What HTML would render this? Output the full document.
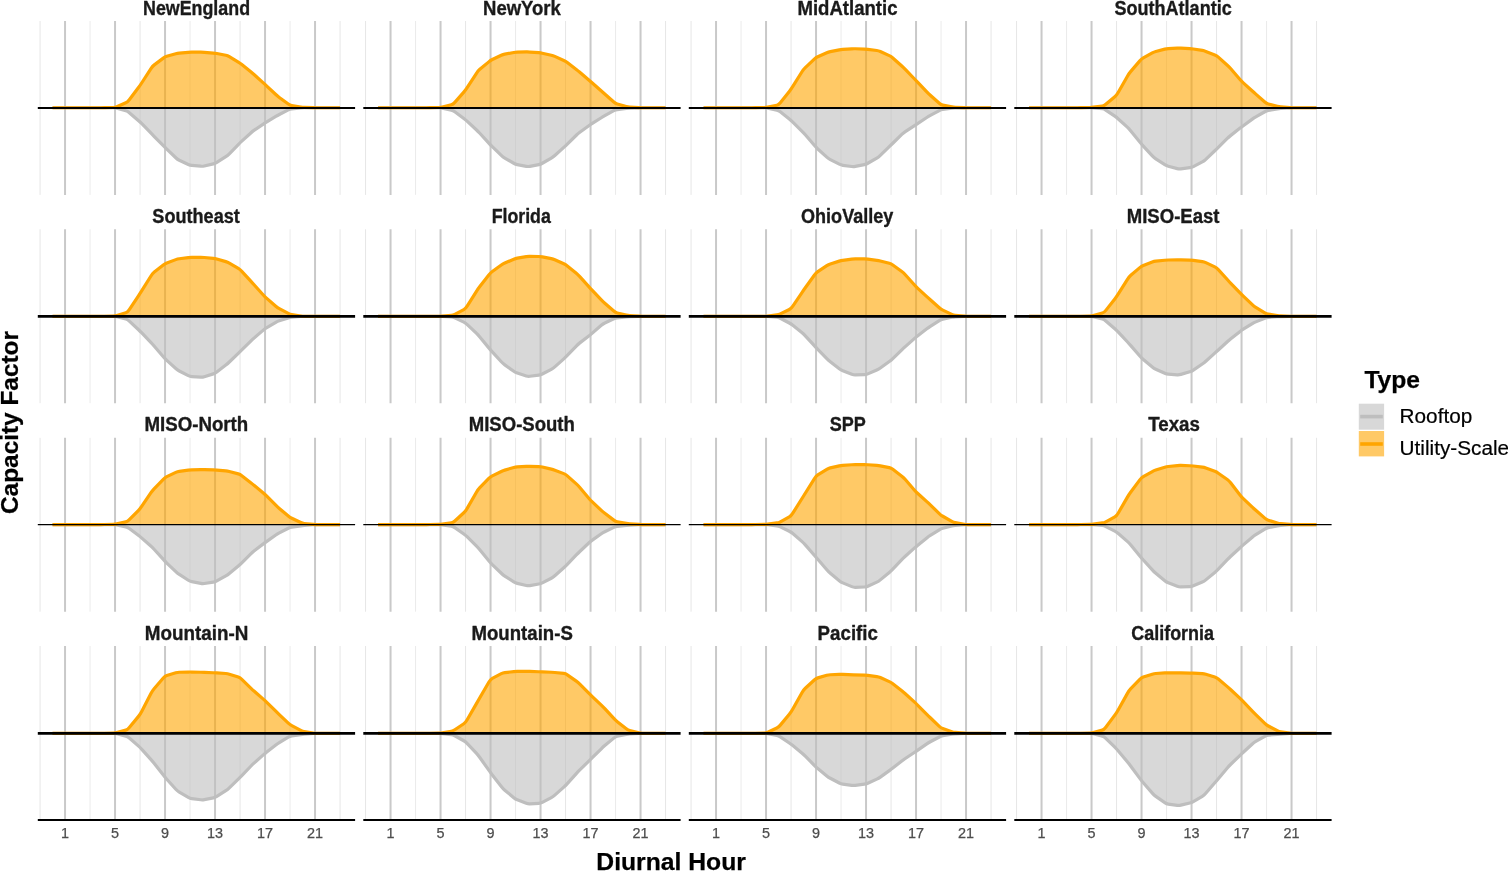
<!DOCTYPE html>
<html><head><meta charset="utf-8"><title>Capacity Factor by Diurnal Hour</title>
<style>html,body{margin:0;padding:0;background:#fff;overflow:hidden}svg{display:block}text{font-family:"Liberation Sans",sans-serif}.t{font-weight:700;fill:#1a1a1a;stroke:#1a1a1a;stroke-width:.35;stroke-linejoin:round}.k{fill:#4d4d4d;stroke:#4d4d4d;stroke-width:.25}.ax{font-weight:700;fill:#000;stroke:#000;stroke-width:.25}.lg{fill:#000;stroke:#000;stroke-width:.2}.gM{stroke:#c9c9c9;stroke-width:2;fill:none}.gm{stroke:#e6e6e6;stroke-width:1;fill:none}.gf{stroke:#ebebeb;stroke-width:1;fill:none}.uF{fill:#ffa500;fill-opacity:.6;stroke:none}.rF{fill:#bebebe;fill-opacity:.6;stroke:none}.uL{fill:none;stroke:#ffa500;stroke-width:3.2;stroke-linejoin:round;stroke-linecap:butt}.rL{fill:none;stroke:#bebebe;stroke-width:3.2;stroke-linejoin:round;stroke-linecap:butt}.z{stroke:#000;fill:none}</style></head><body>
<svg width="1508" height="872" viewBox="0 0 1508 872">
<rect width="1508" height="872" fill="#fff"/>
<g>
<path class="gm" d="M40.05 21V194.9M140.05 21V194.9M240.05 21V194.9M340.05 21V194.9"/>
<path class="gf" d="M90.05 21V194.9M190.05 21V194.9M290.05 21V194.9"/>
<path class="gM" d="M65.05 21V194.9M115.05 21V194.9M165.05 21V194.9M215.05 21V194.9M265.05 21V194.9M315.05 21V194.9"/>
<path class="rF" d="M52.55 107.75L65.05 107.75L77.55 107.75L90.05 107.75L102.55 107.75L113.3 107.75Q115.05 107.75 116.8 108.24L125.8 110.76Q127.55 111.25 129.3 112.75L138.3 120.45Q140.05 121.95 141.8 123.74L150.8 132.96Q152.55 134.75 154.3 136.53L163.3 145.67Q165.05 147.45 166.8 149.13L175.8 157.77Q177.55 159.45 179.3 160.26L188.3 164.44Q190.05 165.25 191.8 165.4L200.8 166.2Q202.55 166.35 204.3 165.94L213.3 163.86Q215.05 163.45 216.8 162.34L225.8 156.66Q227.55 155.55 229.3 153.76L238.3 144.54Q240.05 142.75 241.8 141.15L250.8 132.95Q252.55 131.35 254.3 130.17L263.3 124.13Q265.05 122.95 266.8 121.89L275.8 116.41Q277.55 115.35 279.3 114.47L288.3 109.93Q290.05 109.05 291.8 108.87L300.8 107.93Q302.55 107.75 304.3 107.75L315.05 107.75L327.55 107.75L340.05 107.75V107.75H52.55Z"/>
<path class="rL" d="M52.55 107.75L65.05 107.75L77.55 107.75L90.05 107.75L102.55 107.75L113.3 107.75Q115.05 107.75 116.8 108.24L125.8 110.76Q127.55 111.25 129.3 112.75L138.3 120.45Q140.05 121.95 141.8 123.74L150.8 132.96Q152.55 134.75 154.3 136.53L163.3 145.67Q165.05 147.45 166.8 149.13L175.8 157.77Q177.55 159.45 179.3 160.26L188.3 164.44Q190.05 165.25 191.8 165.4L200.8 166.2Q202.55 166.35 204.3 165.94L213.3 163.86Q215.05 163.45 216.8 162.34L225.8 156.66Q227.55 155.55 229.3 153.76L238.3 144.54Q240.05 142.75 241.8 141.15L250.8 132.95Q252.55 131.35 254.3 130.17L263.3 124.13Q265.05 122.95 266.8 121.89L275.8 116.41Q277.55 115.35 279.3 114.47L288.3 109.93Q290.05 109.05 291.8 108.87L300.8 107.93Q302.55 107.75 304.3 107.75L315.05 107.75L327.55 107.75L340.05 107.75"/>
<path class="uF" d="M52.55 107.75L65.05 107.75L77.55 107.75L90.05 107.75L100.8 107.75Q102.55 107.75 104.3 107.71L113.3 107.49Q115.05 107.45 116.8 106.69L125.8 102.81Q127.55 102.05 129.3 99.73L138.3 87.77Q140.05 85.45 141.8 82.75L150.8 68.9Q152.55 66.2 154.3 64.88L163.3 58.12Q165.05 56.8 166.8 56.3L175.8 53.7Q177.55 53.2 179.3 53.06L188.3 52.34Q190.05 52.2 191.8 52.2L200.8 52.2Q202.55 52.2 204.3 52.34L213.3 53.06Q215.05 53.2 216.8 53.54L225.8 55.26Q227.55 55.6 229.3 56.66L238.3 62.14Q240.05 63.2 241.8 64.6L250.8 71.8Q252.55 73.2 254.3 74.78L263.3 82.88Q265.05 84.45 266.8 86.09L275.8 94.51Q277.55 96.15 279.3 97.44L288.3 104.06Q290.05 105.35 291.8 105.62L300.8 106.98Q302.55 107.25 304.3 107.32L313.3 107.68Q315.05 107.75 316.8 107.75L327.55 107.75L340.05 107.75V107.75H52.55Z"/>
<path class="uL" d="M52.55 107.75L65.05 107.75L77.55 107.75L90.05 107.75L100.8 107.75Q102.55 107.75 104.3 107.71L113.3 107.49Q115.05 107.45 116.8 106.69L125.8 102.81Q127.55 102.05 129.3 99.73L138.3 87.77Q140.05 85.45 141.8 82.75L150.8 68.9Q152.55 66.2 154.3 64.88L163.3 58.12Q165.05 56.8 166.8 56.3L175.8 53.7Q177.55 53.2 179.3 53.06L188.3 52.34Q190.05 52.2 191.8 52.2L200.8 52.2Q202.55 52.2 204.3 52.34L213.3 53.06Q215.05 53.2 216.8 53.54L225.8 55.26Q227.55 55.6 229.3 56.66L238.3 62.14Q240.05 63.2 241.8 64.6L250.8 71.8Q252.55 73.2 254.3 74.78L263.3 82.88Q265.05 84.45 266.8 86.09L275.8 94.51Q277.55 96.15 279.3 97.44L288.3 104.06Q290.05 105.35 291.8 105.62L300.8 106.98Q302.55 107.25 304.3 107.32L313.3 107.68Q315.05 107.75 316.8 107.75L327.55 107.75L340.05 107.75"/>
<path class="z" stroke-width="2.1" d="M37.8 108.05H355.1"/>
<text class="t" x="143.01" y="14.8" font-size="19.4" textLength="107.05" lengthAdjust="spacingAndGlyphs">NewEngland</text>
</g>
<g>
<path class="gm" d="M365.55 21V194.9M465.55 21V194.9M565.55 21V194.9M665.55 21V194.9"/>
<path class="gf" d="M415.55 21V194.9M515.55 21V194.9M615.55 21V194.9"/>
<path class="gM" d="M390.55 21V194.9M440.55 21V194.9M490.55 21V194.9M540.55 21V194.9M590.55 21V194.9M640.55 21V194.9"/>
<path class="rF" d="M378.05 107.75L390.55 107.75L403.05 107.75L415.55 107.75L428.05 107.75L438.8 107.75Q440.55 107.75 442.3 108.13L451.3 110.07Q453.05 110.45 454.8 111.75L463.8 118.45Q465.55 119.75 467.3 121.37L476.3 129.73Q478.05 131.35 479.8 133.25L488.8 143.05Q490.55 144.95 492.3 146.64L501.3 155.36Q503.05 157.05 504.8 158.06L513.8 163.24Q515.55 164.25 517.3 164.59L526.3 166.31Q528.05 166.65 529.8 166.31L538.8 164.59Q540.55 164.25 542.3 163.24L551.3 158.06Q553.05 157.05 554.8 155.47L563.8 147.33Q565.55 145.75 567.3 144.04L576.3 135.26Q578.05 133.55 579.8 132.29L588.8 125.81Q590.55 124.55 592.3 123.44L601.3 117.76Q603.05 116.65 604.8 115.68L613.8 110.72Q615.55 109.75 617.3 109.54L626.3 108.46Q628.05 108.25 629.8 108.18L638.8 107.82Q640.55 107.75 642.3 107.75L653.05 107.75L665.55 107.75V107.75H378.05Z"/>
<path class="rL" d="M378.05 107.75L390.55 107.75L403.05 107.75L415.55 107.75L428.05 107.75L438.8 107.75Q440.55 107.75 442.3 108.13L451.3 110.07Q453.05 110.45 454.8 111.75L463.8 118.45Q465.55 119.75 467.3 121.37L476.3 129.73Q478.05 131.35 479.8 133.25L488.8 143.05Q490.55 144.95 492.3 146.64L501.3 155.36Q503.05 157.05 504.8 158.06L513.8 163.24Q515.55 164.25 517.3 164.59L526.3 166.31Q528.05 166.65 529.8 166.31L538.8 164.59Q540.55 164.25 542.3 163.24L551.3 158.06Q553.05 157.05 554.8 155.47L563.8 147.33Q565.55 145.75 567.3 144.04L576.3 135.26Q578.05 133.55 579.8 132.29L588.8 125.81Q590.55 124.55 592.3 123.44L601.3 117.76Q603.05 116.65 604.8 115.68L613.8 110.72Q615.55 109.75 617.3 109.54L626.3 108.46Q628.05 108.25 629.8 108.18L638.8 107.82Q640.55 107.75 642.3 107.75L653.05 107.75L665.55 107.75"/>
<path class="uF" d="M378.05 107.75L390.55 107.75L403.05 107.75L415.55 107.75L426.3 107.75Q428.05 107.75 429.8 107.71L438.8 107.49Q440.55 107.45 442.3 107.02L451.3 104.78Q453.05 104.35 454.8 102.37L463.8 92.18Q465.55 90.2 467.3 87.48L476.3 73.52Q478.05 70.8 479.8 69.34L488.8 61.86Q490.55 60.4 492.3 59.56L501.3 55.24Q503.05 54.4 504.8 54.09L513.8 52.51Q515.55 52.2 517.3 52.16L526.3 51.94Q528.05 51.9 529.8 52.03L538.8 52.67Q540.55 52.8 542.3 53.19L551.3 55.21Q553.05 55.6 554.8 56.38L563.8 60.42Q565.55 61.2 567.3 62.54L576.3 69.46Q578.05 70.8 579.8 72.29L588.8 79.96Q590.55 81.45 592.3 83L603.05 92.5L613.8 102Q615.55 103.55 617.3 104.03L626.3 106.47Q628.05 106.95 629.8 107.06L638.8 107.64Q640.55 107.75 642.3 107.75L653.05 107.75L665.55 107.75V107.75H378.05Z"/>
<path class="uL" d="M378.05 107.75L390.55 107.75L403.05 107.75L415.55 107.75L426.3 107.75Q428.05 107.75 429.8 107.71L438.8 107.49Q440.55 107.45 442.3 107.02L451.3 104.78Q453.05 104.35 454.8 102.37L463.8 92.18Q465.55 90.2 467.3 87.48L476.3 73.52Q478.05 70.8 479.8 69.34L488.8 61.86Q490.55 60.4 492.3 59.56L501.3 55.24Q503.05 54.4 504.8 54.09L513.8 52.51Q515.55 52.2 517.3 52.16L526.3 51.94Q528.05 51.9 529.8 52.03L538.8 52.67Q540.55 52.8 542.3 53.19L551.3 55.21Q553.05 55.6 554.8 56.38L563.8 60.42Q565.55 61.2 567.3 62.54L576.3 69.46Q578.05 70.8 579.8 72.29L588.8 79.96Q590.55 81.45 592.3 83L603.05 92.5L613.8 102Q615.55 103.55 617.3 104.03L626.3 106.47Q628.05 106.95 629.8 107.06L638.8 107.64Q640.55 107.75 642.3 107.75L653.05 107.75L665.55 107.75"/>
<path class="z" stroke-width="2.1" d="M363.3 108.05H680.6"/>
<text class="t" x="483.04" y="14.8" font-size="19.4" textLength="77.82" lengthAdjust="spacingAndGlyphs">NewYork</text>
</g>
<g>
<path class="gm" d="M691.05 21V194.9M791.05 21V194.9M891.05 21V194.9M991.05 21V194.9"/>
<path class="gf" d="M741.05 21V194.9M841.05 21V194.9M941.05 21V194.9"/>
<path class="gM" d="M716.05 21V194.9M766.05 21V194.9M816.05 21V194.9M866.05 21V194.9M916.05 21V194.9M966.05 21V194.9"/>
<path class="rF" d="M703.55 107.75L716.05 107.75L728.55 107.75L741.05 107.75L753.55 107.75L764.3 107.75Q766.05 107.75 767.8 108.13L776.8 110.07Q778.55 110.45 780.3 111.85L789.3 119.05Q791.05 120.45 792.8 122.17L801.8 131.03Q803.55 132.75 805.3 134.79L814.3 145.31Q816.05 147.35 817.8 148.95L826.8 157.15Q828.55 158.75 830.3 159.63L839.3 164.17Q841.05 165.05 842.8 165.29L851.8 166.51Q853.55 166.75 855.3 166.4L864.3 164.6Q866.05 164.25 867.8 163.24L876.8 158.06Q878.55 157.05 880.3 155.36L889.3 146.64Q891.05 144.95 892.8 143.24L901.8 134.46Q903.55 132.75 905.3 131.6L916.05 124.55L926.8 117.5Q928.55 116.35 930.3 115.41L939.3 110.59Q941.05 109.65 942.8 109.43L951.8 108.27Q953.55 108.05 955.3 108.01L964.3 107.79Q966.05 107.75 967.8 107.75L978.55 107.75L991.05 107.75V107.75H703.55Z"/>
<path class="rL" d="M703.55 107.75L716.05 107.75L728.55 107.75L741.05 107.75L753.55 107.75L764.3 107.75Q766.05 107.75 767.8 108.13L776.8 110.07Q778.55 110.45 780.3 111.85L789.3 119.05Q791.05 120.45 792.8 122.17L801.8 131.03Q803.55 132.75 805.3 134.79L814.3 145.31Q816.05 147.35 817.8 148.95L826.8 157.15Q828.55 158.75 830.3 159.63L839.3 164.17Q841.05 165.05 842.8 165.29L851.8 166.51Q853.55 166.75 855.3 166.4L864.3 164.6Q866.05 164.25 867.8 163.24L876.8 158.06Q878.55 157.05 880.3 155.36L889.3 146.64Q891.05 144.95 892.8 143.24L901.8 134.46Q903.55 132.75 905.3 131.6L916.05 124.55L926.8 117.5Q928.55 116.35 930.3 115.41L939.3 110.59Q941.05 109.65 942.8 109.43L951.8 108.27Q953.55 108.05 955.3 108.01L964.3 107.79Q966.05 107.75 967.8 107.75L978.55 107.75L991.05 107.75"/>
<path class="uF" d="M703.55 107.75L716.05 107.75L728.55 107.75L741.05 107.75L751.8 107.75Q753.55 107.75 755.3 107.71L764.3 107.49Q766.05 107.45 767.8 107.09L776.8 105.21Q778.55 104.85 780.3 102.66L789.3 91.39Q791.05 89.2 792.8 86.4L801.8 72Q803.55 69.2 805.3 67.56L814.3 59.14Q816.05 57.5 817.8 56.72L826.8 52.68Q828.55 51.9 830.3 51.58L839.3 49.92Q841.05 49.6 842.8 49.47L851.8 48.83Q853.55 48.7 855.3 48.77L864.3 49.13Q866.05 49.2 867.8 49.41L876.8 50.49Q878.55 50.7 880.3 51.5L889.3 55.6Q891.05 56.4 892.8 57.97L901.8 66.03Q903.55 67.6 905.3 69.41L914.3 78.74Q916.05 80.55 917.8 82.38L926.8 91.82Q928.55 93.65 930.3 95.2L939.3 103.2Q941.05 104.75 942.8 105.1L951.8 106.9Q953.55 107.25 955.3 107.32L964.3 107.68Q966.05 107.75 967.8 107.75L978.55 107.75L991.05 107.75V107.75H703.55Z"/>
<path class="uL" d="M703.55 107.75L716.05 107.75L728.55 107.75L741.05 107.75L751.8 107.75Q753.55 107.75 755.3 107.71L764.3 107.49Q766.05 107.45 767.8 107.09L776.8 105.21Q778.55 104.85 780.3 102.66L789.3 91.39Q791.05 89.2 792.8 86.4L801.8 72Q803.55 69.2 805.3 67.56L814.3 59.14Q816.05 57.5 817.8 56.72L826.8 52.68Q828.55 51.9 830.3 51.58L839.3 49.92Q841.05 49.6 842.8 49.47L851.8 48.83Q853.55 48.7 855.3 48.77L864.3 49.13Q866.05 49.2 867.8 49.41L876.8 50.49Q878.55 50.7 880.3 51.5L889.3 55.6Q891.05 56.4 892.8 57.97L901.8 66.03Q903.55 67.6 905.3 69.41L914.3 78.74Q916.05 80.55 917.8 82.38L926.8 91.82Q928.55 93.65 930.3 95.2L939.3 103.2Q941.05 104.75 942.8 105.1L951.8 106.9Q953.55 107.25 955.3 107.32L964.3 107.68Q966.05 107.75 967.8 107.75L978.55 107.75L991.05 107.75"/>
<path class="z" stroke-width="2.1" d="M688.8 108.05H1006.1"/>
<text class="t" x="797.45" y="14.8" font-size="19.4" textLength="100.02" lengthAdjust="spacingAndGlyphs">MidAtlantic</text>
</g>
<g>
<path class="gm" d="M1016.55 21V194.9M1116.55 21V194.9M1216.55 21V194.9M1316.55 21V194.9"/>
<path class="gf" d="M1066.55 21V194.9M1166.55 21V194.9M1266.55 21V194.9"/>
<path class="gM" d="M1041.55 21V194.9M1091.55 21V194.9M1141.55 21V194.9M1191.55 21V194.9M1241.55 21V194.9M1291.55 21V194.9"/>
<path class="rF" d="M1029.05 107.75L1041.55 107.75L1054.05 107.75L1066.55 107.75L1079.05 107.75L1089.8 107.75Q1091.55 107.75 1093.3 107.92L1102.3 108.78Q1104.05 108.95 1105.8 110.13L1114.8 116.17Q1116.55 117.35 1118.3 118.95L1127.3 127.15Q1129.05 128.75 1130.8 130.91L1139.8 141.99Q1141.55 144.15 1143.3 146.05L1152.3 155.85Q1154.05 157.75 1155.8 158.87L1164.8 164.63Q1166.55 165.75 1168.3 166.21L1177.3 168.59Q1179.05 169.05 1180.8 168.83L1189.8 167.67Q1191.55 167.45 1193.3 166.55L1202.3 161.95Q1204.05 161.05 1205.8 159.37L1214.8 150.73Q1216.55 149.05 1218.3 147.33L1227.3 138.47Q1229.05 136.75 1230.8 135.38L1239.8 128.32Q1241.55 126.95 1243.3 125.68L1252.3 119.12Q1254.05 117.85 1255.8 116.86L1264.8 111.74Q1266.55 110.75 1268.3 110.44L1277.3 108.86Q1279.05 108.55 1280.8 108.44L1289.8 107.86Q1291.55 107.75 1293.3 107.75L1304.05 107.75L1316.55 107.75V107.75H1029.05Z"/>
<path class="rL" d="M1029.05 107.75L1041.55 107.75L1054.05 107.75L1066.55 107.75L1079.05 107.75L1089.8 107.75Q1091.55 107.75 1093.3 107.92L1102.3 108.78Q1104.05 108.95 1105.8 110.13L1114.8 116.17Q1116.55 117.35 1118.3 118.95L1127.3 127.15Q1129.05 128.75 1130.8 130.91L1139.8 141.99Q1141.55 144.15 1143.3 146.05L1152.3 155.85Q1154.05 157.75 1155.8 158.87L1164.8 164.63Q1166.55 165.75 1168.3 166.21L1177.3 168.59Q1179.05 169.05 1180.8 168.83L1189.8 167.67Q1191.55 167.45 1193.3 166.55L1202.3 161.95Q1204.05 161.05 1205.8 159.37L1214.8 150.73Q1216.55 149.05 1218.3 147.33L1227.3 138.47Q1229.05 136.75 1230.8 135.38L1239.8 128.32Q1241.55 126.95 1243.3 125.68L1252.3 119.12Q1254.05 117.85 1255.8 116.86L1264.8 111.74Q1266.55 110.75 1268.3 110.44L1277.3 108.86Q1279.05 108.55 1280.8 108.44L1289.8 107.86Q1291.55 107.75 1293.3 107.75L1304.05 107.75L1316.55 107.75"/>
<path class="uF" d="M1029.05 107.75L1041.55 107.75L1054.05 107.75L1066.55 107.75L1077.3 107.75Q1079.05 107.75 1080.8 107.71L1089.8 107.49Q1091.55 107.45 1093.3 107.21L1102.3 105.99Q1104.05 105.75 1105.8 104.28L1114.8 96.72Q1116.55 95.25 1118.3 92.2L1127.3 76.5Q1129.05 73.45 1130.8 71.4L1139.8 60.85Q1141.55 58.8 1143.3 57.83L1152.3 52.87Q1154.05 51.9 1155.8 51.45L1164.8 49.15Q1166.55 48.7 1168.3 48.6L1177.3 48.1Q1179.05 48 1180.8 48.1L1189.8 48.6Q1191.55 48.7 1193.3 48.98L1202.3 50.42Q1204.05 50.7 1205.8 51.39L1214.8 54.91Q1216.55 55.6 1218.3 57.17L1227.3 65.23Q1229.05 66.8 1230.8 68.82L1239.8 79.23Q1241.55 81.25 1243.3 82.83L1252.3 90.97Q1254.05 92.55 1255.8 94.09L1264.8 102.01Q1266.55 103.55 1268.3 104L1277.3 106.34Q1279.05 106.8 1280.8 106.93L1289.8 107.62Q1291.55 107.75 1293.3 107.75L1304.05 107.75L1316.55 107.75V107.75H1029.05Z"/>
<path class="uL" d="M1029.05 107.75L1041.55 107.75L1054.05 107.75L1066.55 107.75L1077.3 107.75Q1079.05 107.75 1080.8 107.71L1089.8 107.49Q1091.55 107.45 1093.3 107.21L1102.3 105.99Q1104.05 105.75 1105.8 104.28L1114.8 96.72Q1116.55 95.25 1118.3 92.2L1127.3 76.5Q1129.05 73.45 1130.8 71.4L1139.8 60.85Q1141.55 58.8 1143.3 57.83L1152.3 52.87Q1154.05 51.9 1155.8 51.45L1164.8 49.15Q1166.55 48.7 1168.3 48.6L1177.3 48.1Q1179.05 48 1180.8 48.1L1189.8 48.6Q1191.55 48.7 1193.3 48.98L1202.3 50.42Q1204.05 50.7 1205.8 51.39L1214.8 54.91Q1216.55 55.6 1218.3 57.17L1227.3 65.23Q1229.05 66.8 1230.8 68.82L1239.8 79.23Q1241.55 81.25 1243.3 82.83L1252.3 90.97Q1254.05 92.55 1255.8 94.09L1264.8 102.01Q1266.55 103.55 1268.3 104L1277.3 106.34Q1279.05 106.8 1280.8 106.93L1289.8 107.62Q1291.55 107.75 1293.3 107.75L1304.05 107.75L1316.55 107.75"/>
<path class="z" stroke-width="2.1" d="M1014.3 108.05H1331.6"/>
<text class="t" x="1114.52" y="14.8" font-size="19.4" textLength="117.16" lengthAdjust="spacingAndGlyphs">SouthAtlantic</text>
</g>
<g>
<path class="gm" d="M40.05 229.3V403.2M140.05 229.3V403.2M240.05 229.3V403.2M340.05 229.3V403.2"/>
<path class="gf" d="M90.05 229.3V403.2M190.05 229.3V403.2M290.05 229.3V403.2"/>
<path class="gM" d="M65.05 229.3V403.2M115.05 229.3V403.2M165.05 229.3V403.2M215.05 229.3V403.2M265.05 229.3V403.2M315.05 229.3V403.2"/>
<path class="rF" d="M52.55 316.3L65.05 316.3L77.55 316.3L90.05 316.3L102.55 316.3L113.3 316.3Q115.05 316.3 116.8 316.75L125.8 319.05Q127.55 319.5 129.3 321.12L138.3 329.48Q140.05 331.1 141.8 332.95L150.8 342.45Q152.55 344.3 154.3 346.33L163.3 356.77Q165.05 358.8 166.8 360.38L175.8 368.52Q177.55 370.1 179.3 371L188.3 375.6Q190.05 376.5 191.8 376.61L200.8 377.19Q202.55 377.3 204.3 376.74L213.3 373.86Q215.05 373.3 216.8 371.96L225.8 365.04Q227.55 363.7 229.3 362.01L238.3 353.29Q240.05 351.6 241.8 349.89L250.8 341.11Q252.55 339.4 254.3 337.89L263.3 330.11Q265.05 328.6 266.8 327.58L275.8 322.32Q277.55 321.3 279.3 320.74L288.3 317.86Q290.05 317.3 291.8 317.16L300.8 316.44Q302.55 316.3 304.3 316.3L315.05 316.3L327.55 316.3L340.05 316.3V316.3H52.55Z"/>
<path class="rL" d="M52.55 316.3L65.05 316.3L77.55 316.3L90.05 316.3L102.55 316.3L113.3 316.3Q115.05 316.3 116.8 316.75L125.8 319.05Q127.55 319.5 129.3 321.12L138.3 329.48Q140.05 331.1 141.8 332.95L150.8 342.45Q152.55 344.3 154.3 346.33L163.3 356.77Q165.05 358.8 166.8 360.38L175.8 368.52Q177.55 370.1 179.3 371L188.3 375.6Q190.05 376.5 191.8 376.61L200.8 377.19Q202.55 377.3 204.3 376.74L213.3 373.86Q215.05 373.3 216.8 371.96L225.8 365.04Q227.55 363.7 229.3 362.01L238.3 353.29Q240.05 351.6 241.8 349.89L250.8 341.11Q252.55 339.4 254.3 337.89L263.3 330.11Q265.05 328.6 266.8 327.58L275.8 322.32Q277.55 321.3 279.3 320.74L288.3 317.86Q290.05 317.3 291.8 317.16L300.8 316.44Q302.55 316.3 304.3 316.3L315.05 316.3L327.55 316.3L340.05 316.3"/>
<path class="uF" d="M52.55 316.3L65.05 316.3L77.55 316.3L90.05 316.3L100.8 316.3Q102.55 316.3 104.3 316.26L113.3 316.04Q115.05 316 116.8 315.48L125.8 312.82Q127.55 312.3 129.3 309.66L138.3 296.09Q140.05 293.45 141.8 290.65L150.8 276.25Q152.55 273.45 154.3 272.09L163.3 265.11Q165.05 263.75 166.8 263.08L175.8 259.62Q177.55 258.95 179.3 258.73L188.3 257.57Q190.05 257.35 191.8 257.35L200.8 257.35Q202.55 257.35 204.3 257.5L213.3 258.3Q215.05 258.45 216.8 258.97L225.8 261.63Q227.55 262.15 229.3 263.17L238.3 268.43Q240.05 269.45 241.8 271.35L250.8 281.15Q252.55 283.05 254.3 284.99L263.3 294.96Q265.05 296.9 266.8 298.41L275.8 306.19Q277.55 307.7 279.3 308.62L288.3 313.38Q290.05 314.3 291.8 314.58L300.8 316.02Q302.55 316.3 304.3 316.3L315.05 316.3L327.55 316.3L340.05 316.3V316.3H52.55Z"/>
<path class="uL" d="M52.55 316.3L65.05 316.3L77.55 316.3L90.05 316.3L100.8 316.3Q102.55 316.3 104.3 316.26L113.3 316.04Q115.05 316 116.8 315.48L125.8 312.82Q127.55 312.3 129.3 309.66L138.3 296.09Q140.05 293.45 141.8 290.65L150.8 276.25Q152.55 273.45 154.3 272.09L163.3 265.11Q165.05 263.75 166.8 263.08L175.8 259.62Q177.55 258.95 179.3 258.73L188.3 257.57Q190.05 257.35 191.8 257.35L200.8 257.35Q202.55 257.35 204.3 257.5L213.3 258.3Q215.05 258.45 216.8 258.97L225.8 261.63Q227.55 262.15 229.3 263.17L238.3 268.43Q240.05 269.45 241.8 271.35L250.8 281.15Q252.55 283.05 254.3 284.99L263.3 294.96Q265.05 296.9 266.8 298.41L275.8 306.19Q277.55 307.7 279.3 308.62L288.3 313.38Q290.05 314.3 291.8 314.58L300.8 316.02Q302.55 316.3 304.3 316.3L315.05 316.3L327.55 316.3L340.05 316.3"/>
<path class="z" stroke-width="2.7" d="M37.8 316.35H355.1"/>
<text class="t" x="152.36" y="222.9" font-size="19.4" textLength="87.46" lengthAdjust="spacingAndGlyphs">Southeast</text>
</g>
<g>
<path class="gm" d="M365.55 229.3V403.2M465.55 229.3V403.2M565.55 229.3V403.2M665.55 229.3V403.2"/>
<path class="gf" d="M415.55 229.3V403.2M515.55 229.3V403.2M615.55 229.3V403.2"/>
<path class="gM" d="M390.55 229.3V403.2M440.55 229.3V403.2M490.55 229.3V403.2M540.55 229.3V403.2M590.55 229.3V403.2M640.55 229.3V403.2"/>
<path class="rF" d="M378.05 316.3L390.55 316.3L403.05 316.3L415.55 316.3L428.05 316.3L438.8 316.3Q440.55 316.3 442.3 316.41L451.3 316.99Q453.05 317.1 454.8 317.91L463.8 322.09Q465.55 322.9 467.3 324.58L476.3 333.22Q478.05 334.9 479.8 337.01L488.8 347.89Q490.55 350 492.3 351.92L501.3 361.78Q503.05 363.7 504.8 364.93L513.8 371.27Q515.55 372.5 517.3 373.06L526.3 375.94Q528.05 376.5 529.8 376.28L538.8 375.12Q540.55 374.9 542.3 374L551.3 369.4Q553.05 368.5 554.8 366.93L563.8 358.87Q565.55 357.3 567.3 355.47L576.3 346.03Q578.05 344.2 579.8 342.87L588.8 336.03Q590.55 334.7 592.3 333.17L601.3 325.33Q603.05 323.8 604.8 322.99L613.8 318.81Q615.55 318 617.3 317.83L626.3 316.97Q628.05 316.8 629.8 316.73L638.8 316.37Q640.55 316.3 642.3 316.3L653.05 316.3L665.55 316.3V316.3H378.05Z"/>
<path class="rL" d="M378.05 316.3L390.55 316.3L403.05 316.3L415.55 316.3L428.05 316.3L438.8 316.3Q440.55 316.3 442.3 316.41L451.3 316.99Q453.05 317.1 454.8 317.91L463.8 322.09Q465.55 322.9 467.3 324.58L476.3 333.22Q478.05 334.9 479.8 337.01L488.8 347.89Q490.55 350 492.3 351.92L501.3 361.78Q503.05 363.7 504.8 364.93L513.8 371.27Q515.55 372.5 517.3 373.06L526.3 375.94Q528.05 376.5 529.8 376.28L538.8 375.12Q540.55 374.9 542.3 374L551.3 369.4Q553.05 368.5 554.8 366.93L563.8 358.87Q565.55 357.3 567.3 355.47L576.3 346.03Q578.05 344.2 579.8 342.87L588.8 336.03Q590.55 334.7 592.3 333.17L601.3 325.33Q603.05 323.8 604.8 322.99L613.8 318.81Q615.55 318 617.3 317.83L626.3 316.97Q628.05 316.8 629.8 316.73L638.8 316.37Q640.55 316.3 642.3 316.3L653.05 316.3L665.55 316.3"/>
<path class="uF" d="M378.05 316.3L390.55 316.3L403.05 316.3L415.55 316.3L428.05 316.3L438.8 316.3Q440.55 316.3 442.3 316.16L451.3 315.44Q453.05 315.3 454.8 314.36L463.8 309.54Q465.55 308.6 467.3 305.82L476.3 291.53Q478.05 288.75 479.8 286.51L488.8 274.99Q490.55 272.75 492.3 271.49L501.3 265.01Q503.05 263.75 504.8 263.01L513.8 259.19Q515.55 258.45 517.3 258.14L526.3 256.56Q528.05 256.25 529.8 256.29L538.8 256.51Q540.55 256.55 542.3 256.89L551.3 258.61Q553.05 258.95 554.8 259.73L563.8 263.77Q565.55 264.55 567.3 265.97L576.3 273.28Q578.05 274.7 579.8 276.63L588.8 286.57Q590.55 288.5 592.3 290.35L601.3 299.85Q603.05 301.7 604.8 303.23L613.8 311.07Q615.55 312.6 617.3 312.99L626.3 314.97Q628.05 315.35 629.8 315.48L638.8 316.17Q640.55 316.3 642.3 316.3L653.05 316.3L665.55 316.3V316.3H378.05Z"/>
<path class="uL" d="M378.05 316.3L390.55 316.3L403.05 316.3L415.55 316.3L428.05 316.3L438.8 316.3Q440.55 316.3 442.3 316.16L451.3 315.44Q453.05 315.3 454.8 314.36L463.8 309.54Q465.55 308.6 467.3 305.82L476.3 291.53Q478.05 288.75 479.8 286.51L488.8 274.99Q490.55 272.75 492.3 271.49L501.3 265.01Q503.05 263.75 504.8 263.01L513.8 259.19Q515.55 258.45 517.3 258.14L526.3 256.56Q528.05 256.25 529.8 256.29L538.8 256.51Q540.55 256.55 542.3 256.89L551.3 258.61Q553.05 258.95 554.8 259.73L563.8 263.77Q565.55 264.55 567.3 265.97L576.3 273.28Q578.05 274.7 579.8 276.63L588.8 286.57Q590.55 288.5 592.3 290.35L601.3 299.85Q603.05 301.7 604.8 303.23L613.8 311.07Q615.55 312.6 617.3 312.99L626.3 314.97Q628.05 315.35 629.8 315.48L638.8 316.17Q640.55 316.3 642.3 316.3L653.05 316.3L665.55 316.3"/>
<path class="z" stroke-width="2.7" d="M363.3 316.35H680.6"/>
<text class="t" x="491.64" y="222.9" font-size="19.4" textLength="59.19" lengthAdjust="spacingAndGlyphs">Florida</text>
</g>
<g>
<path class="gm" d="M691.05 229.3V403.2M791.05 229.3V403.2M891.05 229.3V403.2M991.05 229.3V403.2"/>
<path class="gf" d="M741.05 229.3V403.2M841.05 229.3V403.2M941.05 229.3V403.2"/>
<path class="gM" d="M716.05 229.3V403.2M766.05 229.3V403.2M816.05 229.3V403.2M866.05 229.3V403.2M916.05 229.3V403.2M966.05 229.3V403.2"/>
<path class="rF" d="M703.55 316.3L716.05 316.3L728.55 316.3L741.05 316.3L753.55 316.3L764.3 316.3Q766.05 316.3 767.8 316.44L776.8 317.16Q778.55 317.3 780.3 318.22L789.3 322.98Q791.05 323.9 792.8 325.31L801.8 332.59Q803.55 334 805.3 335.9L814.3 345.7Q816.05 347.6 817.8 349.38L826.8 358.52Q828.55 360.3 830.3 361.67L839.3 368.73Q841.05 370.1 842.8 370.77L851.8 374.23Q853.55 374.9 855.3 374.86L864.3 374.64Q866.05 374.6 867.8 373.86L876.8 370.04Q878.55 369.3 880.3 368.04L889.3 361.56Q891.05 360.3 892.8 358.61L901.8 349.89Q903.55 348.2 905.3 346.63L914.3 338.57Q916.05 337 917.8 335.67L926.8 328.83Q928.55 327.5 930.3 326.38L939.3 320.62Q941.05 319.5 942.8 319.14L951.8 317.26Q953.55 316.9 955.3 316.82L964.3 316.38Q966.05 316.3 967.8 316.3L978.55 316.3L991.05 316.3V316.3H703.55Z"/>
<path class="rL" d="M703.55 316.3L716.05 316.3L728.55 316.3L741.05 316.3L753.55 316.3L764.3 316.3Q766.05 316.3 767.8 316.44L776.8 317.16Q778.55 317.3 780.3 318.22L789.3 322.98Q791.05 323.9 792.8 325.31L801.8 332.59Q803.55 334 805.3 335.9L814.3 345.7Q816.05 347.6 817.8 349.38L826.8 358.52Q828.55 360.3 830.3 361.67L839.3 368.73Q841.05 370.1 842.8 370.77L851.8 374.23Q853.55 374.9 855.3 374.86L864.3 374.64Q866.05 374.6 867.8 373.86L876.8 370.04Q878.55 369.3 880.3 368.04L889.3 361.56Q891.05 360.3 892.8 358.61L901.8 349.89Q903.55 348.2 905.3 346.63L914.3 338.57Q916.05 337 917.8 335.67L926.8 328.83Q928.55 327.5 930.3 326.38L939.3 320.62Q941.05 319.5 942.8 319.14L951.8 317.26Q953.55 316.9 955.3 316.82L964.3 316.38Q966.05 316.3 967.8 316.3L978.55 316.3L991.05 316.3"/>
<path class="uF" d="M703.55 316.3L716.05 316.3L728.55 316.3L741.05 316.3L753.55 316.3L764.3 316.3Q766.05 316.3 767.8 316.08L776.8 314.92Q778.55 314.7 780.3 313.85L789.3 309.45Q791.05 308.6 792.8 306.03L801.8 292.82Q803.55 290.25 805.3 287.8L814.3 275.2Q816.05 272.75 817.8 271.6L826.8 265.7Q828.55 264.55 830.3 263.99L839.3 261.11Q841.05 260.55 842.8 260.33L851.8 259.17Q853.55 258.95 855.3 258.95L864.3 258.95Q866.05 258.95 867.8 259.17L876.8 260.33Q878.55 260.55 880.3 261L889.3 263.3Q891.05 263.75 892.8 265.01L901.8 271.49Q903.55 272.75 905.3 274.71L914.3 284.79Q916.05 286.75 917.8 288.36L926.8 296.64Q928.55 298.25 930.3 299.8L939.3 307.75Q941.05 309.3 942.8 310.13L951.8 314.37Q953.55 315.2 955.3 315.35L964.3 316.15Q966.05 316.3 967.8 316.3L978.55 316.3L991.05 316.3V316.3H703.55Z"/>
<path class="uL" d="M703.55 316.3L716.05 316.3L728.55 316.3L741.05 316.3L753.55 316.3L764.3 316.3Q766.05 316.3 767.8 316.08L776.8 314.92Q778.55 314.7 780.3 313.85L789.3 309.45Q791.05 308.6 792.8 306.03L801.8 292.82Q803.55 290.25 805.3 287.8L814.3 275.2Q816.05 272.75 817.8 271.6L826.8 265.7Q828.55 264.55 830.3 263.99L839.3 261.11Q841.05 260.55 842.8 260.33L851.8 259.17Q853.55 258.95 855.3 258.95L864.3 258.95Q866.05 258.95 867.8 259.17L876.8 260.33Q878.55 260.55 880.3 261L889.3 263.3Q891.05 263.75 892.8 265.01L901.8 271.49Q903.55 272.75 905.3 274.71L914.3 284.79Q916.05 286.75 917.8 288.36L926.8 296.64Q928.55 298.25 930.3 299.8L939.3 307.75Q941.05 309.3 942.8 310.13L951.8 314.37Q953.55 315.2 955.3 315.35L964.3 316.15Q966.05 316.3 967.8 316.3L978.55 316.3L991.05 316.3"/>
<path class="z" stroke-width="2.7" d="M688.8 316.35H1006.1"/>
<text class="t" x="801.07" y="222.9" font-size="19.4" textLength="92.21" lengthAdjust="spacingAndGlyphs">OhioValley</text>
</g>
<g>
<path class="gm" d="M1016.55 229.3V403.2M1116.55 229.3V403.2M1216.55 229.3V403.2M1316.55 229.3V403.2"/>
<path class="gf" d="M1066.55 229.3V403.2M1166.55 229.3V403.2M1266.55 229.3V403.2"/>
<path class="gM" d="M1041.55 229.3V403.2M1091.55 229.3V403.2M1141.55 229.3V403.2M1191.55 229.3V403.2M1241.55 229.3V403.2M1291.55 229.3V403.2"/>
<path class="rF" d="M1029.05 316.3L1041.55 316.3L1054.05 316.3L1066.55 316.3L1079.05 316.3L1089.8 316.3Q1091.55 316.3 1093.3 316.75L1102.3 319.05Q1104.05 319.5 1105.8 321.01L1114.8 328.79Q1116.55 330.3 1118.3 332.16L1127.3 341.74Q1129.05 343.6 1130.8 345.62L1139.8 355.98Q1141.55 358 1143.3 359.47L1152.3 367.03Q1154.05 368.5 1155.8 369.28L1164.8 373.32Q1166.55 374.1 1168.3 374.21L1177.3 374.79Q1179.05 374.9 1180.8 374.4L1189.8 371.8Q1191.55 371.3 1193.3 370.11L1202.3 363.99Q1204.05 362.8 1205.8 361.23L1214.8 353.17Q1216.55 351.6 1218.3 350L1227.3 341.8Q1229.05 340.2 1230.8 338.81L1239.8 331.69Q1241.55 330.3 1243.3 329.22L1252.3 323.68Q1254.05 322.6 1255.8 321.89L1264.8 318.21Q1266.55 317.5 1268.3 317.37L1277.3 316.73Q1279.05 316.6 1280.8 316.56L1289.8 316.34Q1291.55 316.3 1293.3 316.3L1304.05 316.3L1316.55 316.3V316.3H1029.05Z"/>
<path class="rL" d="M1029.05 316.3L1041.55 316.3L1054.05 316.3L1066.55 316.3L1079.05 316.3L1089.8 316.3Q1091.55 316.3 1093.3 316.75L1102.3 319.05Q1104.05 319.5 1105.8 321.01L1114.8 328.79Q1116.55 330.3 1118.3 332.16L1127.3 341.74Q1129.05 343.6 1130.8 345.62L1139.8 355.98Q1141.55 358 1143.3 359.47L1152.3 367.03Q1154.05 368.5 1155.8 369.28L1164.8 373.32Q1166.55 374.1 1168.3 374.21L1177.3 374.79Q1179.05 374.9 1180.8 374.4L1189.8 371.8Q1191.55 371.3 1193.3 370.11L1202.3 363.99Q1204.05 362.8 1205.8 361.23L1214.8 353.17Q1216.55 351.6 1218.3 350L1227.3 341.8Q1229.05 340.2 1230.8 338.81L1239.8 331.69Q1241.55 330.3 1243.3 329.22L1252.3 323.68Q1254.05 322.6 1255.8 321.89L1264.8 318.21Q1266.55 317.5 1268.3 317.37L1277.3 316.73Q1279.05 316.6 1280.8 316.56L1289.8 316.34Q1291.55 316.3 1293.3 316.3L1304.05 316.3L1316.55 316.3"/>
<path class="uF" d="M1029.05 316.3L1041.55 316.3L1054.05 316.3L1066.55 316.3L1077.3 316.3Q1079.05 316.3 1080.8 316.26L1089.8 316.04Q1091.55 316 1093.3 315.52L1102.3 313.08Q1104.05 312.6 1105.8 310.38L1114.8 298.97Q1116.55 296.75 1118.3 293.95L1127.3 279.55Q1129.05 276.75 1130.8 275.27L1139.8 267.63Q1141.55 266.15 1143.3 265.48L1152.3 262.02Q1154.05 261.35 1155.8 261.17L1164.8 260.23Q1166.55 260.05 1168.3 260.01L1177.3 259.79Q1179.05 259.75 1180.8 259.82L1189.8 260.18Q1191.55 260.25 1193.3 260.46L1202.3 261.54Q1204.05 261.75 1205.8 262.59L1214.8 266.91Q1216.55 267.75 1218.3 269.67L1227.3 279.53Q1229.05 281.45 1230.8 283.27L1239.8 292.63Q1241.55 294.45 1243.3 296.12L1252.3 304.68Q1254.05 306.35 1255.8 307.41L1264.8 312.84Q1266.55 313.9 1268.3 314.17L1277.3 315.53Q1279.05 315.8 1280.8 315.87L1289.8 316.23Q1291.55 316.3 1293.3 316.3L1304.05 316.3L1316.55 316.3V316.3H1029.05Z"/>
<path class="uL" d="M1029.05 316.3L1041.55 316.3L1054.05 316.3L1066.55 316.3L1077.3 316.3Q1079.05 316.3 1080.8 316.26L1089.8 316.04Q1091.55 316 1093.3 315.52L1102.3 313.08Q1104.05 312.6 1105.8 310.38L1114.8 298.97Q1116.55 296.75 1118.3 293.95L1127.3 279.55Q1129.05 276.75 1130.8 275.27L1139.8 267.63Q1141.55 266.15 1143.3 265.48L1152.3 262.02Q1154.05 261.35 1155.8 261.17L1164.8 260.23Q1166.55 260.05 1168.3 260.01L1177.3 259.79Q1179.05 259.75 1180.8 259.82L1189.8 260.18Q1191.55 260.25 1193.3 260.46L1202.3 261.54Q1204.05 261.75 1205.8 262.59L1214.8 266.91Q1216.55 267.75 1218.3 269.67L1227.3 279.53Q1229.05 281.45 1230.8 283.27L1239.8 292.63Q1241.55 294.45 1243.3 296.12L1252.3 304.68Q1254.05 306.35 1255.8 307.41L1264.8 312.84Q1266.55 313.9 1268.3 314.17L1277.3 315.53Q1279.05 315.8 1280.8 315.87L1289.8 316.23Q1291.55 316.3 1293.3 316.3L1304.05 316.3L1316.55 316.3"/>
<path class="z" stroke-width="2.7" d="M1014.3 316.35H1331.6"/>
<text class="t" x="1126.77" y="222.9" font-size="19.4" textLength="92.74" lengthAdjust="spacingAndGlyphs">MISO-East</text>
</g>
<g>
<path class="gm" d="M40.05 437.8V611.7M140.05 437.8V611.7M240.05 437.8V611.7M340.05 437.8V611.7"/>
<path class="gf" d="M90.05 437.8V611.7M190.05 437.8V611.7M290.05 437.8V611.7"/>
<path class="gM" d="M65.05 437.8V611.7M115.05 437.8V611.7M165.05 437.8V611.7M215.05 437.8V611.7M265.05 437.8V611.7M315.05 437.8V611.7"/>
<path class="rF" d="M52.55 524.55L65.05 524.55L77.55 524.55L90.05 524.55L102.55 524.55L113.3 524.55Q115.05 524.55 116.8 524.93L125.8 526.87Q127.55 527.25 129.3 528.55L138.3 535.25Q140.05 536.55 141.8 538.09L150.8 546.01Q152.55 547.55 154.3 549.48L163.3 559.42Q165.05 561.35 166.8 563.03L175.8 571.67Q177.55 573.35 179.3 574.47L188.3 580.23Q190.05 581.35 191.8 581.69L200.8 583.41Q202.55 583.75 204.3 583.48L213.3 582.12Q215.05 581.85 216.8 580.88L225.8 575.92Q227.55 574.95 229.3 573.49L238.3 566.01Q240.05 564.55 241.8 562.81L250.8 553.89Q252.55 552.15 254.3 550.81L263.3 543.89Q265.05 542.55 266.8 541.32L275.8 534.98Q277.55 533.75 279.3 532.85L288.3 528.25Q290.05 527.35 291.8 527.1L300.8 525.8Q302.55 525.55 304.3 525.41L313.3 524.69Q315.05 524.55 316.8 524.55L327.55 524.55L340.05 524.55V524.55H52.55Z"/>
<path class="rL" d="M52.55 524.55L65.05 524.55L77.55 524.55L90.05 524.55L102.55 524.55L113.3 524.55Q115.05 524.55 116.8 524.93L125.8 526.87Q127.55 527.25 129.3 528.55L138.3 535.25Q140.05 536.55 141.8 538.09L150.8 546.01Q152.55 547.55 154.3 549.48L163.3 559.42Q165.05 561.35 166.8 563.03L175.8 571.67Q177.55 573.35 179.3 574.47L188.3 580.23Q190.05 581.35 191.8 581.69L200.8 583.41Q202.55 583.75 204.3 583.48L213.3 582.12Q215.05 581.85 216.8 580.88L225.8 575.92Q227.55 574.95 229.3 573.49L238.3 566.01Q240.05 564.55 241.8 562.81L250.8 553.89Q252.55 552.15 254.3 550.81L263.3 543.89Q265.05 542.55 266.8 541.32L275.8 534.98Q277.55 533.75 279.3 532.85L288.3 528.25Q290.05 527.35 291.8 527.1L300.8 525.8Q302.55 525.55 304.3 525.41L313.3 524.69Q315.05 524.55 316.8 524.55L327.55 524.55L340.05 524.55"/>
<path class="uF" d="M52.55 524.55L65.05 524.55L77.55 524.55L90.05 524.55L100.8 524.55Q102.55 524.55 104.3 524.51L113.3 524.29Q115.05 524.25 116.8 523.86L125.8 521.84Q127.55 521.45 129.3 519.68L138.3 510.57Q140.05 508.8 141.8 506.21L150.8 492.89Q152.55 490.3 154.3 488.51L163.3 479.29Q165.05 477.5 166.8 476.66L175.8 472.34Q177.55 471.5 179.3 471.29L188.3 470.21Q190.05 470 191.8 469.94L200.8 469.66Q202.55 469.6 204.3 469.66L213.3 469.94Q215.05 470 216.8 470.14L225.8 470.86Q227.55 471 229.3 471.46L238.3 473.84Q240.05 474.3 241.8 475.66L250.8 482.64Q252.55 484 254.3 485.47L263.3 493.03Q265.05 494.5 266.8 496.24L275.8 505.21Q277.55 506.95 279.3 508.42L288.3 515.98Q290.05 517.45 291.8 518.27L300.8 522.48Q302.55 523.3 304.3 523.47L313.3 524.38Q315.05 524.55 316.8 524.55L327.55 524.55L340.05 524.55V524.55H52.55Z"/>
<path class="uL" d="M52.55 524.55L65.05 524.55L77.55 524.55L90.05 524.55L100.8 524.55Q102.55 524.55 104.3 524.51L113.3 524.29Q115.05 524.25 116.8 523.86L125.8 521.84Q127.55 521.45 129.3 519.68L138.3 510.57Q140.05 508.8 141.8 506.21L150.8 492.89Q152.55 490.3 154.3 488.51L163.3 479.29Q165.05 477.5 166.8 476.66L175.8 472.34Q177.55 471.5 179.3 471.29L188.3 470.21Q190.05 470 191.8 469.94L200.8 469.66Q202.55 469.6 204.3 469.66L213.3 469.94Q215.05 470 216.8 470.14L225.8 470.86Q227.55 471 229.3 471.46L238.3 473.84Q240.05 474.3 241.8 475.66L250.8 482.64Q252.55 484 254.3 485.47L263.3 493.03Q265.05 494.5 266.8 496.24L275.8 505.21Q277.55 506.95 279.3 508.42L288.3 515.98Q290.05 517.45 291.8 518.27L300.8 522.48Q302.55 523.3 304.3 523.47L313.3 524.38Q315.05 524.55 316.8 524.55L327.55 524.55L340.05 524.55"/>
<path class="z" stroke-width="1.3" d="M37.8 524.55H355.1"/>
<text class="t" x="144.45" y="431.4" font-size="19.4" textLength="103.82" lengthAdjust="spacingAndGlyphs">MISO-North</text>
</g>
<g>
<path class="gm" d="M365.55 437.8V611.7M465.55 437.8V611.7M565.55 437.8V611.7M665.55 437.8V611.7"/>
<path class="gf" d="M415.55 437.8V611.7M515.55 437.8V611.7M615.55 437.8V611.7"/>
<path class="gM" d="M390.55 437.8V611.7M440.55 437.8V611.7M490.55 437.8V611.7M540.55 437.8V611.7M590.55 437.8V611.7M640.55 437.8V611.7"/>
<path class="rF" d="M378.05 524.55L390.55 524.55L403.05 524.55L415.55 524.55L428.05 524.55L438.8 524.55Q440.55 524.55 442.3 524.8L451.3 526.1Q453.05 526.35 454.8 527.6L463.8 534Q465.55 535.25 467.3 536.97L476.3 545.83Q478.05 547.55 479.8 549.71L488.8 560.79Q490.55 562.95 492.3 564.63L501.3 573.27Q503.05 574.95 504.8 576.07L513.8 581.83Q515.55 582.95 517.3 583.36L526.3 585.44Q528.05 585.85 529.8 585.56L538.8 584.04Q540.55 583.75 542.3 582.85L551.3 578.25Q553.05 577.35 554.8 575.78L563.8 567.72Q565.55 566.15 567.3 564.33L576.3 554.97Q578.05 553.15 579.8 551.5L588.8 543Q590.55 541.35 592.3 540.12L601.3 533.78Q603.05 532.55 604.8 531.71L613.8 527.39Q615.55 526.55 617.3 526.38L626.3 525.52Q628.05 525.35 629.8 525.24L638.8 524.66Q640.55 524.55 642.3 524.55L653.05 524.55L665.55 524.55V524.55H378.05Z"/>
<path class="rL" d="M378.05 524.55L390.55 524.55L403.05 524.55L415.55 524.55L428.05 524.55L438.8 524.55Q440.55 524.55 442.3 524.8L451.3 526.1Q453.05 526.35 454.8 527.6L463.8 534Q465.55 535.25 467.3 536.97L476.3 545.83Q478.05 547.55 479.8 549.71L488.8 560.79Q490.55 562.95 492.3 564.63L501.3 573.27Q503.05 574.95 504.8 576.07L513.8 581.83Q515.55 582.95 517.3 583.36L526.3 585.44Q528.05 585.85 529.8 585.56L538.8 584.04Q540.55 583.75 542.3 582.85L551.3 578.25Q553.05 577.35 554.8 575.78L563.8 567.72Q565.55 566.15 567.3 564.33L576.3 554.97Q578.05 553.15 579.8 551.5L588.8 543Q590.55 541.35 592.3 540.12L601.3 533.78Q603.05 532.55 604.8 531.71L613.8 527.39Q615.55 526.55 617.3 526.38L626.3 525.52Q628.05 525.35 629.8 525.24L638.8 524.66Q640.55 524.55 642.3 524.55L653.05 524.55L665.55 524.55"/>
<path class="uF" d="M378.05 524.55L390.55 524.55L403.05 524.55L415.55 524.55L426.3 524.55Q428.05 524.55 429.8 524.51L438.8 524.29Q440.55 524.25 442.3 524.01L451.3 522.79Q453.05 522.55 454.8 520.96L463.8 512.79Q465.55 511.2 467.3 508.16L476.3 492.54Q478.05 489.5 479.8 487.71L488.8 478.49Q490.55 476.7 492.3 475.85L501.3 471.45Q503.05 470.6 504.8 470.1L513.8 467.5Q515.55 467 517.3 466.9L526.3 466.4Q528.05 466.3 529.8 466.34L538.8 466.56Q540.55 466.6 542.3 467.01L551.3 469.09Q553.05 469.5 554.8 470.17L563.8 473.63Q565.55 474.3 567.3 475.87L576.3 483.93Q578.05 485.5 579.8 487.56L588.8 498.18Q590.55 500.25 592.3 501.89L601.3 510.35Q603.05 512 604.8 513.32L613.8 520.13Q615.55 521.45 617.3 521.77L626.3 523.43Q628.05 523.75 629.8 523.86L638.8 524.44Q640.55 524.55 642.3 524.55L653.05 524.55L665.55 524.55V524.55H378.05Z"/>
<path class="uL" d="M378.05 524.55L390.55 524.55L403.05 524.55L415.55 524.55L426.3 524.55Q428.05 524.55 429.8 524.51L438.8 524.29Q440.55 524.25 442.3 524.01L451.3 522.79Q453.05 522.55 454.8 520.96L463.8 512.79Q465.55 511.2 467.3 508.16L476.3 492.54Q478.05 489.5 479.8 487.71L488.8 478.49Q490.55 476.7 492.3 475.85L501.3 471.45Q503.05 470.6 504.8 470.1L513.8 467.5Q515.55 467 517.3 466.9L526.3 466.4Q528.05 466.3 529.8 466.34L538.8 466.56Q540.55 466.6 542.3 467.01L551.3 469.09Q553.05 469.5 554.8 470.17L563.8 473.63Q565.55 474.3 567.3 475.87L576.3 483.93Q578.05 485.5 579.8 487.56L588.8 498.18Q590.55 500.25 592.3 501.89L601.3 510.35Q603.05 512 604.8 513.32L613.8 520.13Q615.55 521.45 617.3 521.77L626.3 523.43Q628.05 523.75 629.8 523.86L638.8 524.44Q640.55 524.55 642.3 524.55L653.05 524.55L665.55 524.55"/>
<path class="z" stroke-width="1.3" d="M363.3 524.55H680.6"/>
<text class="t" x="468.79" y="431.4" font-size="19.4" textLength="106.04" lengthAdjust="spacingAndGlyphs">MISO-South</text>
</g>
<g>
<path class="gm" d="M691.05 437.8V611.7M791.05 437.8V611.7M891.05 437.8V611.7M991.05 437.8V611.7"/>
<path class="gf" d="M741.05 437.8V611.7M841.05 437.8V611.7M941.05 437.8V611.7"/>
<path class="gM" d="M716.05 437.8V611.7M766.05 437.8V611.7M816.05 437.8V611.7M866.05 437.8V611.7M916.05 437.8V611.7M966.05 437.8V611.7"/>
<path class="rF" d="M703.55 524.55L716.05 524.55L728.55 524.55L741.05 524.55L753.55 524.55L764.3 524.55Q766.05 524.55 767.8 524.76L776.8 525.84Q778.55 526.05 780.3 526.89L789.3 531.21Q791.05 532.05 792.8 533.56L801.8 541.34Q803.55 542.85 805.3 544.87L814.3 555.23Q816.05 557.25 817.8 559.28L826.8 569.72Q828.55 571.75 830.3 573.21L839.3 580.69Q841.05 582.15 842.8 582.88L851.8 586.62Q853.55 587.35 855.3 587.29L864.3 587.01Q866.05 586.95 867.8 586.17L876.8 582.13Q878.55 581.35 880.3 579.89L889.3 572.41Q891.05 570.95 892.8 569.12L901.8 559.68Q903.55 557.85 905.3 556.27L914.3 548.13Q916.05 546.55 917.8 545.15L926.8 537.95Q928.55 536.55 930.3 535.46L939.3 529.84Q941.05 528.75 942.8 528.3L951.8 526Q953.55 525.55 955.3 525.41L964.3 524.69Q966.05 524.55 967.8 524.55L978.55 524.55L991.05 524.55V524.55H703.55Z"/>
<path class="rL" d="M703.55 524.55L716.05 524.55L728.55 524.55L741.05 524.55L753.55 524.55L764.3 524.55Q766.05 524.55 767.8 524.76L776.8 525.84Q778.55 526.05 780.3 526.89L789.3 531.21Q791.05 532.05 792.8 533.56L801.8 541.34Q803.55 542.85 805.3 544.87L814.3 555.23Q816.05 557.25 817.8 559.28L826.8 569.72Q828.55 571.75 830.3 573.21L839.3 580.69Q841.05 582.15 842.8 582.88L851.8 586.62Q853.55 587.35 855.3 587.29L864.3 587.01Q866.05 586.95 867.8 586.17L876.8 582.13Q878.55 581.35 880.3 579.89L889.3 572.41Q891.05 570.95 892.8 569.12L901.8 559.68Q903.55 557.85 905.3 556.27L914.3 548.13Q916.05 546.55 917.8 545.15L926.8 537.95Q928.55 536.55 930.3 535.46L939.3 529.84Q941.05 528.75 942.8 528.3L951.8 526Q953.55 525.55 955.3 525.41L964.3 524.69Q966.05 524.55 967.8 524.55L978.55 524.55L991.05 524.55"/>
<path class="uF" d="M703.55 524.55L716.05 524.55L728.55 524.55L741.05 524.55L751.8 524.55Q753.55 524.55 755.3 524.51L764.3 524.29Q766.05 524.25 767.8 524.04L776.8 522.96Q778.55 522.75 780.3 521.8L789.3 516.95Q791.05 516 792.8 513.2L803.55 496L814.3 478.8Q816.05 476 817.8 474.92L826.8 469.38Q828.55 468.3 830.3 467.91L839.3 465.89Q841.05 465.5 842.8 465.37L851.8 464.73Q853.55 464.6 855.3 464.6L864.3 464.6Q866.05 464.6 867.8 464.73L876.8 465.37Q878.55 465.5 880.3 465.85L889.3 467.65Q891.05 468 892.8 469.33L901.8 476.17Q903.55 477.5 905.3 479.52L914.3 489.93Q916.05 491.95 917.8 493.53L926.8 501.67Q928.55 503.25 930.3 504.93L939.3 513.57Q941.05 515.25 942.8 516.24L951.8 521.36Q953.55 522.35 955.3 522.66L964.3 524.24Q966.05 524.55 967.8 524.55L978.55 524.55L991.05 524.55V524.55H703.55Z"/>
<path class="uL" d="M703.55 524.55L716.05 524.55L728.55 524.55L741.05 524.55L751.8 524.55Q753.55 524.55 755.3 524.51L764.3 524.29Q766.05 524.25 767.8 524.04L776.8 522.96Q778.55 522.75 780.3 521.8L789.3 516.95Q791.05 516 792.8 513.2L803.55 496L814.3 478.8Q816.05 476 817.8 474.92L826.8 469.38Q828.55 468.3 830.3 467.91L839.3 465.89Q841.05 465.5 842.8 465.37L851.8 464.73Q853.55 464.6 855.3 464.6L864.3 464.6Q866.05 464.6 867.8 464.73L876.8 465.37Q878.55 465.5 880.3 465.85L889.3 467.65Q891.05 468 892.8 469.33L901.8 476.17Q903.55 477.5 905.3 479.52L914.3 489.93Q916.05 491.95 917.8 493.53L926.8 501.67Q928.55 503.25 930.3 504.93L939.3 513.57Q941.05 515.25 942.8 516.24L951.8 521.36Q953.55 522.35 955.3 522.66L964.3 524.24Q966.05 524.55 967.8 524.55L978.55 524.55L991.05 524.55"/>
<path class="z" stroke-width="1.3" d="M688.8 524.55H1006.1"/>
<text class="t" x="829.74" y="431.4" font-size="19.4" textLength="36.07" lengthAdjust="spacingAndGlyphs">SPP</text>
</g>
<g>
<path class="gm" d="M1016.55 437.8V611.7M1116.55 437.8V611.7M1216.55 437.8V611.7M1316.55 437.8V611.7"/>
<path class="gf" d="M1066.55 437.8V611.7M1166.55 437.8V611.7M1266.55 437.8V611.7"/>
<path class="gM" d="M1041.55 437.8V611.7M1091.55 437.8V611.7M1141.55 437.8V611.7M1191.55 437.8V611.7M1241.55 437.8V611.7M1291.55 437.8V611.7"/>
<path class="rF" d="M1029.05 524.55L1041.55 524.55L1054.05 524.55L1066.55 524.55L1079.05 524.55L1089.8 524.55Q1091.55 524.55 1093.3 524.7L1102.3 525.5Q1104.05 525.65 1105.8 526.55L1114.8 531.15Q1116.55 532.05 1118.3 533.56L1127.3 541.34Q1129.05 542.85 1130.8 544.98L1139.8 555.92Q1141.55 558.05 1143.3 559.97L1152.3 569.83Q1154.05 571.75 1155.8 573.21L1164.8 580.69Q1166.55 582.15 1168.3 582.82L1177.3 586.28Q1179.05 586.95 1180.8 586.89L1189.8 586.61Q1191.55 586.55 1193.3 585.82L1202.3 582.08Q1204.05 581.35 1205.8 579.89L1214.8 572.41Q1216.55 570.95 1218.3 569.12L1227.3 559.68Q1229.05 557.85 1230.8 556.24L1239.8 547.96Q1241.55 546.35 1243.3 544.87L1252.3 537.23Q1254.05 535.75 1255.8 534.66L1264.8 529.04Q1266.55 527.95 1268.3 527.61L1277.3 525.89Q1279.05 525.55 1280.8 525.41L1289.8 524.69Q1291.55 524.55 1293.3 524.55L1304.05 524.55L1316.55 524.55V524.55H1029.05Z"/>
<path class="rL" d="M1029.05 524.55L1041.55 524.55L1054.05 524.55L1066.55 524.55L1079.05 524.55L1089.8 524.55Q1091.55 524.55 1093.3 524.7L1102.3 525.5Q1104.05 525.65 1105.8 526.55L1114.8 531.15Q1116.55 532.05 1118.3 533.56L1127.3 541.34Q1129.05 542.85 1130.8 544.98L1139.8 555.92Q1141.55 558.05 1143.3 559.97L1152.3 569.83Q1154.05 571.75 1155.8 573.21L1164.8 580.69Q1166.55 582.15 1168.3 582.82L1177.3 586.28Q1179.05 586.95 1180.8 586.89L1189.8 586.61Q1191.55 586.55 1193.3 585.82L1202.3 582.08Q1204.05 581.35 1205.8 579.89L1214.8 572.41Q1216.55 570.95 1218.3 569.12L1227.3 559.68Q1229.05 557.85 1230.8 556.24L1239.8 547.96Q1241.55 546.35 1243.3 544.87L1252.3 537.23Q1254.05 535.75 1255.8 534.66L1264.8 529.04Q1266.55 527.95 1268.3 527.61L1277.3 525.89Q1279.05 525.55 1280.8 525.41L1289.8 524.69Q1291.55 524.55 1293.3 524.55L1304.05 524.55L1316.55 524.55"/>
<path class="uF" d="M1029.05 524.55L1041.55 524.55L1054.05 524.55L1066.55 524.55L1077.3 524.55Q1079.05 524.55 1080.8 524.51L1089.8 524.29Q1091.55 524.25 1093.3 524.04L1102.3 522.96Q1104.05 522.75 1105.8 521.8L1114.8 516.95Q1116.55 516 1118.3 512.96L1127.3 497.34Q1129.05 494.3 1130.8 491.95L1139.8 479.85Q1141.55 477.5 1143.3 476.53L1152.3 471.57Q1154.05 470.6 1155.8 470.05L1164.8 467.25Q1166.55 466.7 1168.3 466.52L1177.3 465.58Q1179.05 465.4 1180.8 465.46L1189.8 465.74Q1191.55 465.8 1193.3 466.02L1202.3 467.18Q1204.05 467.4 1205.8 468.04L1214.8 471.36Q1216.55 472 1218.3 473.22L1227.3 479.48Q1229.05 480.7 1230.8 482.98L1239.8 494.72Q1241.55 497 1243.3 498.65L1252.3 507.15Q1254.05 508.8 1255.8 510.32L1264.8 518.13Q1266.55 519.65 1268.3 520.19L1277.3 522.97Q1279.05 523.51 1280.8 523.66L1289.8 524.4Q1291.55 524.55 1293.3 524.55L1304.05 524.55L1316.55 524.55V524.55H1029.05Z"/>
<path class="uL" d="M1029.05 524.55L1041.55 524.55L1054.05 524.55L1066.55 524.55L1077.3 524.55Q1079.05 524.55 1080.8 524.51L1089.8 524.29Q1091.55 524.25 1093.3 524.04L1102.3 522.96Q1104.05 522.75 1105.8 521.8L1114.8 516.95Q1116.55 516 1118.3 512.96L1127.3 497.34Q1129.05 494.3 1130.8 491.95L1139.8 479.85Q1141.55 477.5 1143.3 476.53L1152.3 471.57Q1154.05 470.6 1155.8 470.05L1164.8 467.25Q1166.55 466.7 1168.3 466.52L1177.3 465.58Q1179.05 465.4 1180.8 465.46L1189.8 465.74Q1191.55 465.8 1193.3 466.02L1202.3 467.18Q1204.05 467.4 1205.8 468.04L1214.8 471.36Q1216.55 472 1218.3 473.22L1227.3 479.48Q1229.05 480.7 1230.8 482.98L1239.8 494.72Q1241.55 497 1243.3 498.65L1252.3 507.15Q1254.05 508.8 1255.8 510.32L1264.8 518.13Q1266.55 519.65 1268.3 520.19L1277.3 522.97Q1279.05 523.51 1280.8 523.66L1289.8 524.4Q1291.55 524.55 1293.3 524.55L1304.05 524.55L1316.55 524.55"/>
<path class="z" stroke-width="1.3" d="M1014.3 524.55H1331.6"/>
<text class="t" x="1148.22" y="431.4" font-size="19.4" textLength="51.67" lengthAdjust="spacingAndGlyphs">Texas</text>
</g>
<g>
<path class="gm" d="M40.05 646V819.9M140.05 646V819.9M240.05 646V819.9M340.05 646V819.9"/>
<path class="gf" d="M90.05 646V819.9M190.05 646V819.9M290.05 646V819.9"/>
<path class="gM" d="M65.05 646V819.9M115.05 646V819.9M165.05 646V819.9M215.05 646V819.9M265.05 646V819.9M315.05 646V819.9"/>
<path class="rF" d="M52.55 733.35L65.05 733.35L77.55 733.35L90.05 733.35L102.55 733.35L113.3 733.35Q115.05 733.35 116.8 733.8L125.8 736.1Q127.55 736.55 129.3 738.06L138.3 745.84Q140.05 747.35 141.8 749.31L150.8 759.39Q152.55 761.35 154.3 763.59L163.3 775.11Q165.05 777.35 166.8 779.28L175.8 789.22Q177.55 791.15 179.3 792.16L188.3 797.34Q190.05 798.35 191.8 798.57L200.8 799.73Q202.55 799.95 204.3 799.61L213.3 797.89Q215.05 797.55 216.8 796.43L225.8 790.67Q227.55 789.55 229.3 787.84L238.3 779.06Q240.05 777.35 241.8 775.54L250.8 766.26Q252.55 764.45 254.3 762.9L263.3 754.9Q265.05 753.35 266.8 751.99L275.8 745.01Q277.55 743.65 279.3 742.6L288.3 737.2Q290.05 736.15 291.8 735.9L300.8 734.6Q302.55 734.35 304.3 734.21L313.3 733.49Q315.05 733.35 316.8 733.35L327.55 733.35L340.05 733.35V733.35H52.55Z"/>
<path class="rL" d="M52.55 733.35L65.05 733.35L77.55 733.35L90.05 733.35L102.55 733.35L113.3 733.35Q115.05 733.35 116.8 733.8L125.8 736.1Q127.55 736.55 129.3 738.06L138.3 745.84Q140.05 747.35 141.8 749.31L150.8 759.39Q152.55 761.35 154.3 763.59L163.3 775.11Q165.05 777.35 166.8 779.28L175.8 789.22Q177.55 791.15 179.3 792.16L188.3 797.34Q190.05 798.35 191.8 798.57L200.8 799.73Q202.55 799.95 204.3 799.61L213.3 797.89Q215.05 797.55 216.8 796.43L225.8 790.67Q227.55 789.55 229.3 787.84L238.3 779.06Q240.05 777.35 241.8 775.54L250.8 766.26Q252.55 764.45 254.3 762.9L263.3 754.9Q265.05 753.35 266.8 751.99L275.8 745.01Q277.55 743.65 279.3 742.6L288.3 737.2Q290.05 736.15 291.8 735.9L300.8 734.6Q302.55 734.35 304.3 734.21L313.3 733.49Q315.05 733.35 316.8 733.35L327.55 733.35L340.05 733.35"/>
<path class="uF" d="M52.55 733.35L65.05 733.35L77.55 733.35L90.05 733.35L100.8 733.35Q102.55 733.35 104.3 733.31L113.3 733.09Q115.05 733.05 116.8 732.57L125.8 730.13Q127.55 729.65 129.3 727.53L138.3 716.62Q140.05 714.5 141.8 711.14L150.8 693.86Q152.55 690.5 154.3 688.47L163.3 678.03Q165.05 676 166.8 675.48L175.8 672.82Q177.55 672.3 179.3 672.26L188.3 672.04Q190.05 672 191.8 672.04L200.8 672.26Q202.55 672.3 204.3 672.37L213.3 672.73Q215.05 672.8 216.8 672.91L225.8 673.49Q227.55 673.6 229.3 674.16L238.3 677.04Q240.05 677.6 241.8 679.31L250.8 688.09Q252.55 689.8 254.3 691.31L263.3 699.09Q265.05 700.6 266.8 702.32L275.8 711.18Q277.55 712.9 279.3 714.56L288.3 723.09Q290.05 724.75 291.8 725.66L300.8 730.34Q302.55 731.25 304.3 731.54L313.3 733.06Q315.05 733.35 316.8 733.35L327.55 733.35L340.05 733.35V733.35H52.55Z"/>
<path class="uL" d="M52.55 733.35L65.05 733.35L77.55 733.35L90.05 733.35L100.8 733.35Q102.55 733.35 104.3 733.31L113.3 733.09Q115.05 733.05 116.8 732.57L125.8 730.13Q127.55 729.65 129.3 727.53L138.3 716.62Q140.05 714.5 141.8 711.14L150.8 693.86Q152.55 690.5 154.3 688.47L163.3 678.03Q165.05 676 166.8 675.48L175.8 672.82Q177.55 672.3 179.3 672.26L188.3 672.04Q190.05 672 191.8 672.04L200.8 672.26Q202.55 672.3 204.3 672.37L213.3 672.73Q215.05 672.8 216.8 672.91L225.8 673.49Q227.55 673.6 229.3 674.16L238.3 677.04Q240.05 677.6 241.8 679.31L250.8 688.09Q252.55 689.8 254.3 691.31L263.3 699.09Q265.05 700.6 266.8 702.32L275.8 711.18Q277.55 712.9 279.3 714.56L288.3 723.09Q290.05 724.75 291.8 725.66L300.8 730.34Q302.55 731.25 304.3 731.54L313.3 733.06Q315.05 733.35 316.8 733.35L327.55 733.35L340.05 733.35"/>
<path class="z" stroke-width="2.7" d="M37.8 733.4H355.1"/>
<text class="t" x="144.73" y="639.7" font-size="19.4" textLength="103.53" lengthAdjust="spacingAndGlyphs">Mountain-N</text>
<path class="z" stroke-width="2" d="M37.8 820H355.1"/>
<text class="k" x="65.05" y="838.2" font-size="14.4" text-anchor="middle">1</text>
<text class="k" x="115.05" y="838.2" font-size="14.4" text-anchor="middle">5</text>
<text class="k" x="165.05" y="838.2" font-size="14.4" text-anchor="middle">9</text>
<text class="k" x="215.05" y="838.2" font-size="14.4" text-anchor="middle">13</text>
<text class="k" x="265.05" y="838.2" font-size="14.4" text-anchor="middle">17</text>
<text class="k" x="315.05" y="838.2" font-size="14.4" text-anchor="middle">21</text>
</g>
<g>
<path class="gm" d="M365.55 646V819.9M465.55 646V819.9M565.55 646V819.9M665.55 646V819.9"/>
<path class="gf" d="M415.55 646V819.9M515.55 646V819.9M615.55 646V819.9"/>
<path class="gM" d="M390.55 646V819.9M440.55 646V819.9M490.55 646V819.9M540.55 646V819.9M590.55 646V819.9M640.55 646V819.9"/>
<path class="rF" d="M378.05 733.35L390.55 733.35L403.05 733.35L415.55 733.35L428.05 733.35L438.8 733.35Q440.55 733.35 442.3 733.55L451.3 734.55Q453.05 734.75 454.8 735.73L463.8 740.77Q465.55 741.75 467.3 743.61L476.3 753.19Q478.05 755.05 479.8 757.51L488.8 770.19Q490.55 772.65 492.3 774.9L501.3 786.5Q503.05 788.75 504.8 790.21L513.8 797.69Q515.55 799.15 517.3 799.82L526.3 803.28Q528.05 803.95 529.8 803.87L538.8 803.43Q540.55 803.35 542.3 802.43L551.3 797.67Q553.05 796.75 554.8 795.18L563.8 787.12Q565.55 785.55 567.3 783.6L576.3 773.6Q578.05 771.65 579.8 769.94L588.8 761.16Q590.55 759.45 592.3 757.71L601.3 748.79Q603.05 747.05 604.8 745.59L613.8 738.11Q615.55 736.65 617.3 736.27L626.3 734.33Q628.05 733.95 629.8 733.87L638.8 733.43Q640.55 733.35 642.3 733.35L653.05 733.35L665.55 733.35V733.35H378.05Z"/>
<path class="rL" d="M378.05 733.35L390.55 733.35L403.05 733.35L415.55 733.35L428.05 733.35L438.8 733.35Q440.55 733.35 442.3 733.55L451.3 734.55Q453.05 734.75 454.8 735.73L463.8 740.77Q465.55 741.75 467.3 743.61L476.3 753.19Q478.05 755.05 479.8 757.51L488.8 770.19Q490.55 772.65 492.3 774.9L501.3 786.5Q503.05 788.75 504.8 790.21L513.8 797.69Q515.55 799.15 517.3 799.82L526.3 803.28Q528.05 803.95 529.8 803.87L538.8 803.43Q540.55 803.35 542.3 802.43L551.3 797.67Q553.05 796.75 554.8 795.18L563.8 787.12Q565.55 785.55 567.3 783.6L576.3 773.6Q578.05 771.65 579.8 769.94L588.8 761.16Q590.55 759.45 592.3 757.71L601.3 748.79Q603.05 747.05 604.8 745.59L613.8 738.11Q615.55 736.65 617.3 736.27L626.3 734.33Q628.05 733.95 629.8 733.87L638.8 733.43Q640.55 733.35 642.3 733.35L653.05 733.35L665.55 733.35"/>
<path class="uF" d="M378.05 733.35L390.55 733.35L403.05 733.35L415.55 733.35L426.3 733.35Q428.05 733.35 429.8 733.31L438.8 733.09Q440.55 733.05 442.3 732.76L451.3 731.24Q453.05 730.95 454.8 729.78L463.8 723.77Q465.55 722.6 467.3 719.55L476.3 703.85Q478.05 700.8 479.8 697.78L488.8 682.22Q490.55 679.2 492.3 678.3L501.3 673.7Q503.05 672.8 504.8 672.6L513.8 671.6Q515.55 671.4 517.3 671.4L526.3 671.4Q528.05 671.4 529.8 671.46L538.8 671.74Q540.55 671.8 542.3 671.87L551.3 672.23Q553.05 672.3 554.8 672.48L563.8 673.42Q565.55 673.6 567.3 674.83L576.3 681.17Q578.05 682.4 579.8 684.16L588.8 693.24Q590.55 695 592.3 696.64L601.3 705.11Q603.05 706.75 604.8 708.65L613.8 718.45Q615.55 720.35 617.3 721.71L626.3 728.69Q628.05 730.05 629.8 730.51L638.8 732.89Q640.55 733.35 642.3 733.35L653.05 733.35L665.55 733.35V733.35H378.05Z"/>
<path class="uL" d="M378.05 733.35L390.55 733.35L403.05 733.35L415.55 733.35L426.3 733.35Q428.05 733.35 429.8 733.31L438.8 733.09Q440.55 733.05 442.3 732.76L451.3 731.24Q453.05 730.95 454.8 729.78L463.8 723.77Q465.55 722.6 467.3 719.55L476.3 703.85Q478.05 700.8 479.8 697.78L488.8 682.22Q490.55 679.2 492.3 678.3L501.3 673.7Q503.05 672.8 504.8 672.6L513.8 671.6Q515.55 671.4 517.3 671.4L526.3 671.4Q528.05 671.4 529.8 671.46L538.8 671.74Q540.55 671.8 542.3 671.87L551.3 672.23Q553.05 672.3 554.8 672.48L563.8 673.42Q565.55 673.6 567.3 674.83L576.3 681.17Q578.05 682.4 579.8 684.16L588.8 693.24Q590.55 695 592.3 696.64L601.3 705.11Q603.05 706.75 604.8 708.65L613.8 718.45Q615.55 720.35 617.3 721.71L626.3 728.69Q628.05 730.05 629.8 730.51L638.8 732.89Q640.55 733.35 642.3 733.35L653.05 733.35L665.55 733.35"/>
<path class="z" stroke-width="2.7" d="M363.3 733.4H680.6"/>
<text class="t" x="471.45" y="639.7" font-size="19.4" textLength="101.37" lengthAdjust="spacingAndGlyphs">Mountain-S</text>
<path class="z" stroke-width="2" d="M363.3 820H680.6"/>
<text class="k" x="390.55" y="838.2" font-size="14.4" text-anchor="middle">1</text>
<text class="k" x="440.55" y="838.2" font-size="14.4" text-anchor="middle">5</text>
<text class="k" x="490.55" y="838.2" font-size="14.4" text-anchor="middle">9</text>
<text class="k" x="540.55" y="838.2" font-size="14.4" text-anchor="middle">13</text>
<text class="k" x="590.55" y="838.2" font-size="14.4" text-anchor="middle">17</text>
<text class="k" x="640.55" y="838.2" font-size="14.4" text-anchor="middle">21</text>
</g>
<g>
<path class="gm" d="M691.05 646V819.9M791.05 646V819.9M891.05 646V819.9M991.05 646V819.9"/>
<path class="gf" d="M741.05 646V819.9M841.05 646V819.9M941.05 646V819.9"/>
<path class="gM" d="M716.05 646V819.9M766.05 646V819.9M816.05 646V819.9M866.05 646V819.9M916.05 646V819.9M966.05 646V819.9"/>
<path class="rF" d="M703.55 733.35L716.05 733.35L728.55 733.35L741.05 733.35L753.55 733.35L764.3 733.35Q766.05 733.35 767.8 733.69L776.8 735.41Q778.55 735.75 780.3 736.93L789.3 742.97Q791.05 744.15 792.8 745.58L801.8 752.92Q803.55 754.35 805.3 756.13L814.3 765.27Q816.05 767.05 817.8 768.49L826.8 775.91Q828.55 777.35 830.3 778.27L839.3 783.03Q841.05 783.95 842.8 784.17L851.8 785.33Q853.55 785.55 855.3 785.33L864.3 784.17Q866.05 783.95 867.8 783.17L876.8 779.13Q878.55 778.35 880.3 777.09L889.3 770.61Q891.05 769.35 892.8 767.99L901.8 761.01Q903.55 759.65 905.3 758.49L914.3 752.51Q916.05 751.35 917.8 750.13L926.8 743.87Q928.55 742.65 930.3 741.73L939.3 736.97Q941.05 736.05 942.8 735.74L951.8 734.16Q953.55 733.85 955.3 733.78L964.3 733.42Q966.05 733.35 967.8 733.35L978.55 733.35L991.05 733.35V733.35H703.55Z"/>
<path class="rL" d="M703.55 733.35L716.05 733.35L728.55 733.35L741.05 733.35L753.55 733.35L764.3 733.35Q766.05 733.35 767.8 733.69L776.8 735.41Q778.55 735.75 780.3 736.93L789.3 742.97Q791.05 744.15 792.8 745.58L801.8 752.92Q803.55 754.35 805.3 756.13L814.3 765.27Q816.05 767.05 817.8 768.49L826.8 775.91Q828.55 777.35 830.3 778.27L839.3 783.03Q841.05 783.95 842.8 784.17L851.8 785.33Q853.55 785.55 855.3 785.33L864.3 784.17Q866.05 783.95 867.8 783.17L876.8 779.13Q878.55 778.35 880.3 777.09L889.3 770.61Q891.05 769.35 892.8 767.99L901.8 761.01Q903.55 759.65 905.3 758.49L914.3 752.51Q916.05 751.35 917.8 750.13L926.8 743.87Q928.55 742.65 930.3 741.73L939.3 736.97Q941.05 736.05 942.8 735.74L951.8 734.16Q953.55 733.85 955.3 733.78L964.3 733.42Q966.05 733.35 967.8 733.35L978.55 733.35L991.05 733.35"/>
<path class="uF" d="M703.55 733.35L716.05 733.35L728.55 733.35L741.05 733.35L751.8 733.35Q753.55 733.35 755.3 733.31L764.3 733.09Q766.05 733.05 767.8 732.24L776.8 728.06Q778.55 727.25 780.3 725.13L789.3 714.22Q791.05 712.1 792.8 708.98L801.8 692.92Q803.55 689.8 805.3 688.2L814.3 680Q816.05 678.4 817.8 677.9L826.8 675.3Q828.55 674.8 830.3 674.74L839.3 674.46Q841.05 674.4 842.8 674.46L853.55 674.8L864.3 675.14Q866.05 675.2 867.8 675.42L876.8 676.58Q878.55 676.8 880.3 677.58L889.3 681.62Q891.05 682.4 892.8 683.76L901.8 690.74Q903.55 692.1 905.3 693.7L914.3 701.9Q916.05 703.5 917.8 705.26L926.8 714.34Q928.55 716.1 930.3 717.76L939.3 726.29Q941.05 727.95 942.8 728.55L951.8 731.65Q953.55 732.25 955.3 732.4L964.3 733.2Q966.05 733.35 967.8 733.35L978.55 733.35L991.05 733.35V733.35H703.55Z"/>
<path class="uL" d="M703.55 733.35L716.05 733.35L728.55 733.35L741.05 733.35L751.8 733.35Q753.55 733.35 755.3 733.31L764.3 733.09Q766.05 733.05 767.8 732.24L776.8 728.06Q778.55 727.25 780.3 725.13L789.3 714.22Q791.05 712.1 792.8 708.98L801.8 692.92Q803.55 689.8 805.3 688.2L814.3 680Q816.05 678.4 817.8 677.9L826.8 675.3Q828.55 674.8 830.3 674.74L839.3 674.46Q841.05 674.4 842.8 674.46L853.55 674.8L864.3 675.14Q866.05 675.2 867.8 675.42L876.8 676.58Q878.55 676.8 880.3 677.58L889.3 681.62Q891.05 682.4 892.8 683.76L901.8 690.74Q903.55 692.1 905.3 693.7L914.3 701.9Q916.05 703.5 917.8 705.26L926.8 714.34Q928.55 716.1 930.3 717.76L939.3 726.29Q941.05 727.95 942.8 728.55L951.8 731.65Q953.55 732.25 955.3 732.4L964.3 733.2Q966.05 733.35 967.8 733.35L978.55 733.35L991.05 733.35"/>
<path class="z" stroke-width="2.7" d="M688.8 733.4H1006.1"/>
<text class="t" x="817.61" y="639.7" font-size="19.4" textLength="60.36" lengthAdjust="spacingAndGlyphs">Pacific</text>
<path class="z" stroke-width="2" d="M688.8 820H1006.1"/>
<text class="k" x="716.05" y="838.2" font-size="14.4" text-anchor="middle">1</text>
<text class="k" x="766.05" y="838.2" font-size="14.4" text-anchor="middle">5</text>
<text class="k" x="816.05" y="838.2" font-size="14.4" text-anchor="middle">9</text>
<text class="k" x="866.05" y="838.2" font-size="14.4" text-anchor="middle">13</text>
<text class="k" x="916.05" y="838.2" font-size="14.4" text-anchor="middle">17</text>
<text class="k" x="966.05" y="838.2" font-size="14.4" text-anchor="middle">21</text>
</g>
<g>
<path class="gm" d="M1016.55 646V819.9M1116.55 646V819.9M1216.55 646V819.9M1316.55 646V819.9"/>
<path class="gf" d="M1066.55 646V819.9M1166.55 646V819.9M1266.55 646V819.9"/>
<path class="gM" d="M1041.55 646V819.9M1091.55 646V819.9M1141.55 646V819.9M1191.55 646V819.9M1241.55 646V819.9M1291.55 646V819.9"/>
<path class="rF" d="M1029.05 733.35L1041.55 733.35L1054.05 733.35L1066.55 733.35L1079.05 733.35L1089.8 733.35Q1091.55 733.35 1093.3 733.8L1102.3 736.1Q1104.05 736.55 1105.8 738.29L1114.8 747.21Q1116.55 748.95 1118.3 751.04L1127.3 761.76Q1129.05 763.85 1130.8 766.22L1139.8 778.38Q1141.55 780.75 1143.3 782.77L1152.3 793.13Q1154.05 795.15 1155.8 796.37L1164.8 802.63Q1166.55 803.85 1168.3 804.1L1177.3 805.36Q1179.05 805.6 1180.8 805.17L1189.8 802.98Q1191.55 802.55 1193.3 801.54L1202.3 796.36Q1204.05 795.35 1205.8 793.31L1214.8 782.79Q1216.55 780.75 1218.3 778.68L1227.3 768.02Q1229.05 765.95 1230.8 764.26L1239.8 755.54Q1241.55 753.85 1243.3 752.24L1252.3 743.96Q1254.05 742.35 1255.8 741.37L1264.8 736.33Q1266.55 735.35 1268.3 735.18L1277.3 734.32Q1279.05 734.15 1280.8 734.04L1289.8 733.46Q1291.55 733.35 1293.3 733.35L1304.05 733.35L1316.55 733.35V733.35H1029.05Z"/>
<path class="rL" d="M1029.05 733.35L1041.55 733.35L1054.05 733.35L1066.55 733.35L1079.05 733.35L1089.8 733.35Q1091.55 733.35 1093.3 733.8L1102.3 736.1Q1104.05 736.55 1105.8 738.29L1114.8 747.21Q1116.55 748.95 1118.3 751.04L1127.3 761.76Q1129.05 763.85 1130.8 766.22L1139.8 778.38Q1141.55 780.75 1143.3 782.77L1152.3 793.13Q1154.05 795.15 1155.8 796.37L1164.8 802.63Q1166.55 803.85 1168.3 804.1L1177.3 805.36Q1179.05 805.6 1180.8 805.17L1189.8 802.98Q1191.55 802.55 1193.3 801.54L1202.3 796.36Q1204.05 795.35 1205.8 793.31L1214.8 782.79Q1216.55 780.75 1218.3 778.68L1227.3 768.02Q1229.05 765.95 1230.8 764.26L1239.8 755.54Q1241.55 753.85 1243.3 752.24L1252.3 743.96Q1254.05 742.35 1255.8 741.37L1264.8 736.33Q1266.55 735.35 1268.3 735.18L1277.3 734.32Q1279.05 734.15 1280.8 734.04L1289.8 733.46Q1291.55 733.35 1293.3 733.35L1304.05 733.35L1316.55 733.35"/>
<path class="uF" d="M1029.05 733.35L1041.55 733.35L1054.05 733.35L1066.55 733.35L1077.3 733.35Q1079.05 733.35 1080.8 733.31L1089.8 733.09Q1091.55 733.05 1093.3 732.57L1102.3 730.13Q1104.05 729.65 1105.8 727.29L1114.8 715.16Q1116.55 712.8 1118.3 709.68L1127.3 693.62Q1129.05 690.5 1130.8 688.69L1139.8 679.41Q1141.55 677.6 1143.3 677.04L1152.3 674.16Q1154.05 673.6 1155.8 673.49L1164.8 672.91Q1166.55 672.8 1168.3 672.8L1177.3 672.8Q1179.05 672.8 1180.8 672.84L1189.8 673.06Q1191.55 673.1 1193.3 673.2L1202.3 673.7Q1204.05 673.8 1205.8 674.33L1214.8 677.07Q1216.55 677.6 1218.3 679.07L1227.3 686.63Q1229.05 688.1 1230.8 689.74L1239.8 698.16Q1241.55 699.8 1243.3 701.63L1252.3 711.07Q1254.05 712.9 1255.8 714.6L1264.8 723.35Q1266.55 725.05 1268.3 725.96L1277.3 730.64Q1279.05 731.55 1280.8 731.8L1289.8 733.1Q1291.55 733.35 1293.3 733.35L1304.05 733.35L1316.55 733.35V733.35H1029.05Z"/>
<path class="uL" d="M1029.05 733.35L1041.55 733.35L1054.05 733.35L1066.55 733.35L1077.3 733.35Q1079.05 733.35 1080.8 733.31L1089.8 733.09Q1091.55 733.05 1093.3 732.57L1102.3 730.13Q1104.05 729.65 1105.8 727.29L1114.8 715.16Q1116.55 712.8 1118.3 709.68L1127.3 693.62Q1129.05 690.5 1130.8 688.69L1139.8 679.41Q1141.55 677.6 1143.3 677.04L1152.3 674.16Q1154.05 673.6 1155.8 673.49L1164.8 672.91Q1166.55 672.8 1168.3 672.8L1177.3 672.8Q1179.05 672.8 1180.8 672.84L1189.8 673.06Q1191.55 673.1 1193.3 673.2L1202.3 673.7Q1204.05 673.8 1205.8 674.33L1214.8 677.07Q1216.55 677.6 1218.3 679.07L1227.3 686.63Q1229.05 688.1 1230.8 689.74L1239.8 698.16Q1241.55 699.8 1243.3 701.63L1252.3 711.07Q1254.05 712.9 1255.8 714.6L1264.8 723.35Q1266.55 725.05 1268.3 725.96L1277.3 730.64Q1279.05 731.55 1280.8 731.8L1289.8 733.1Q1291.55 733.35 1293.3 733.35L1304.05 733.35L1316.55 733.35"/>
<path class="z" stroke-width="2.7" d="M1014.3 733.4H1331.6"/>
<text class="t" x="1131.32" y="639.7" font-size="19.4" textLength="82.68" lengthAdjust="spacingAndGlyphs">California</text>
<path class="z" stroke-width="2" d="M1014.3 820H1331.6"/>
<text class="k" x="1041.55" y="838.2" font-size="14.4" text-anchor="middle">1</text>
<text class="k" x="1091.55" y="838.2" font-size="14.4" text-anchor="middle">5</text>
<text class="k" x="1141.55" y="838.2" font-size="14.4" text-anchor="middle">9</text>
<text class="k" x="1191.55" y="838.2" font-size="14.4" text-anchor="middle">13</text>
<text class="k" x="1241.55" y="838.2" font-size="14.4" text-anchor="middle">17</text>
<text class="k" x="1291.55" y="838.2" font-size="14.4" text-anchor="middle">21</text>
</g>
<text class="ax" x="671.1" y="870.4" font-size="24.7" text-anchor="middle">Diurnal Hour</text>
<text class="ax" transform="translate(18.3 422.5) rotate(-90)" font-size="24.4" text-anchor="middle">Capacity Factor</text>
<g>
<text class="ax" x="1364.4" y="388" font-size="24.65">Type</text>
<rect x="1358.8" y="403.7" width="25.3" height="26" fill="#bebebe" fill-opacity=".6"/>
<path d="M1360.2 416.6H1382.8" stroke="#bebebe" stroke-width="3.6" fill="none"/>
<rect x="1358.8" y="431" width="25.3" height="25.4" fill="#ffa500" fill-opacity=".6"/>
<path d="M1360.2 444H1382.8" stroke="#ffa500" stroke-width="3.6" fill="none"/>
<text class="lg" x="1399.6" y="423" font-size="20.75">Rooftop</text>
<text class="lg" x="1399.6" y="454.8" font-size="20.75">Utility-Scale</text>
</g>
</svg></body></html>
